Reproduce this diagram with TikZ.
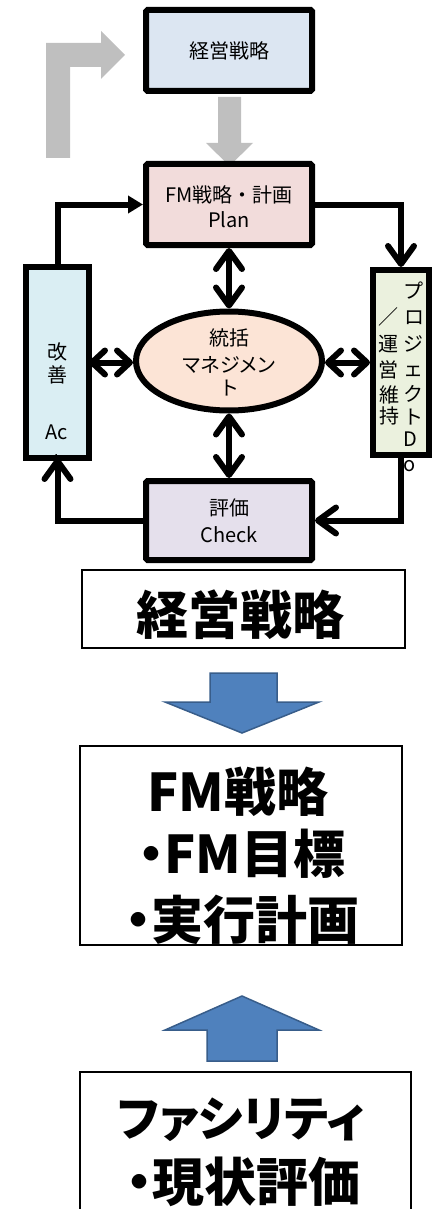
\documentclass[tikz,border=0pt]{standalone}
\usepackage{fontspec}
\setmainfont{Noto Sans CJK JP}
\newfontfamily\jpp[RawFeature=+palt]{Noto Sans CJK JP}
\usetikzlibrary{arrows.meta,shapes.geometric}
\definecolor{topfill}{HTML}{DCE6F2}
\definecolor{planfill}{HTML}{F2DCDB}
\definecolor{actfill}{HTML}{DAEEF3}
\definecolor{dofill}{HTML}{EBF1DE}
\definecolor{ellfill}{HTML}{FCE4D6}
\definecolor{chkfill}{HTML}{E5E0EC}
\definecolor{grayarrow}{HTML}{BFBFBF}
\definecolor{bluefill}{HTML}{4F81BD}
\definecolor{blueline}{HTML}{385D8A}
\begin{document}
\begin{tikzpicture}[x=1pt,y=-1pt,
  box/.style={draw=black, line width=6pt, minimum width=166pt, minimum height=81pt, inner sep=0pt, rounded corners=1.5pt},
  tallbox/.style={line width=6pt, minimum width=57pt, minimum height=185pt, inner sep=0pt},
  conn/.style={line width=6pt, line join=miter},
  barb/.tip={Straight Barb[length=18pt,width=26pt,line cap=round,line join=round]},
  sbarb/.tip={Straight Barb[length=13pt,width=24pt,line cap=round,line join=round]},
  txt/.style={inner sep=0pt, font=\fontsize{20}{22}\selectfont},
  ptxt/.style={inner sep=0pt, font=\jpp\fontsize{20}{22}\selectfont},
  bigtxt/.style={inner sep=0pt, font=\jpp\bfseries\fontsize{52}{60}\selectfont},
  plainbox/.style={draw=black, line width=1.5pt, inner sep=0pt}]
\useasboundingbox (0,0) rectangle (434,1209);
\clip (0,0) rectangle (434,1209);

% gray arrows
\fill[grayarrow] (46,158) -- (46,43) -- (101,43) -- (101,31) -- (125,55) -- (101,79) -- (101,67) -- (70,67) -- (70,158) -- cycle;
\fill[grayarrow] (218,97) -- (241,97) -- (241,143) -- (253,143) -- (229.5,166) -- (206,143) -- (218,143) -- cycle;

% upper cycle nodes
\node[box, fill=topfill] (top) at (229,50.5) {};
\node[txt] (toptxt) at (229,51) {経営戦略};

\node[box, fill=planfill] (plan) at (229,204.5) {};
\node[txt] (plan1) at (229,195) {FM戦略・計画};
\node[txt] (plan2) at (229,220) {Plan};

\node[box, fill=chkfill, minimum height=79pt] (check) at (229,520.5) {};
\node[txt] (chk1) at (229,508) {評価};
\node[txt] (chk2) at (229,535) {Check};

\node[ellipse, draw=black, line width=6pt, fill=ellfill, minimum width=186pt, minimum height=99pt, inner sep=0pt] (ell) at (229,361) {};
\node[txt] (e1) at (229,338) {統括};
\node[ptxt] (e2) at (229,365) {マネジメン};
\node[txt] (e3) at (229,388) {ト};

% left box (Act)
\node[tallbox, fill=actfill] (lbox) at (57.5,362.5) {};
\node[txt] (a1) at (57,352) {改};
\node[txt] (a2) at (57,375) {善};
\node[txt] (a3) at (57,432) {Ac};
\begin{scope}
  \clip (lbox.north west) rectangle (lbox.south east);
  \node[txt] (a4) at (57,462) {t};
\end{scope}
\draw[line width=6pt] (lbox.north west) rectangle (lbox.south east);

% right box (Do)
\node[txt] (d8) at (410,466) {o};
\node[tallbox, draw=black, fill=dofill, minimum width=56pt] (rbox) at (401,362.5) {};
\node[txt] (d1) at (413,291) {プ};
\node[txt] (d2) at (414,318) {ロ};
\node[txt] (d3) at (413,344) {ジ};
\node[txt] (d4) at (413,371) {ェ};
\node[txt] (d5) at (413,394) {ク};
\node[txt] (d6) at (413,417) {ト};
\node[txt] (d7) at (410,439) {D};
\node[txt] (l1) at (388,317) {／};
\node[txt] (l2) at (388,344) {運};
\node[txt] (l3) at (388,370) {営};
\node[txt] (l4) at (389,395) {維};
\node[txt] (l5) at (389,416) {持};

% connectors
\draw[conn,-{Triangle[length=15pt,width=17pt]}] (lbox.north) |- (plan.west);
\draw[conn,-barb] (plan.east) -| (rbox.north);
\draw[conn,-barb] (rbox.south) |- (check.east);
\draw[conn,-barb] (check.west) -| (lbox.south);
\draw[conn,barb-barb] (plan.south) -- (ell.north);
\draw[conn,barb-barb] (ell.south) -- (check.north);
\draw[conn,sbarb-sbarb] (lbox.east) -- (lbox.east -| ell.west);
\draw[conn,sbarb-sbarb] (rbox.west -| ell.east) -- (rbox.west);

% lower section
\node[plainbox, minimum width=323pt, minimum height=78pt] (b1) at (243.5,609) {};
\node[bigtxt] (b1t) at (240,615) {経営戦略};

\draw[fill=bluefill, draw=blueline, line width=1.5pt] (210,673) -- (277,673) -- (277,702) -- (319,702) -- (242,733) -- (165,702) -- (210,702) -- cycle;

\node[plainbox, minimum width=322pt, minimum height=199pt] (b2) at (241,845.5) {};
\node[bigtxt] (b2a) at (238,792) {FM戦略};
\node[bigtxt] (b2b) at (242,854) {・FM目標};
\node[bigtxt] (b2c) at (242,920) {・実行計画};

\draw[fill=bluefill, draw=blueline, line width=1.5pt] (207,1061) -- (277,1061) -- (277,1030) -- (319,1030) -- (242,996) -- (165,1030) -- (207,1030) -- cycle;

\node[plainbox, minimum width=331pt, minimum height=158pt] (b3) at (245.5,1151) {};
\node[bigtxt, font=\jpp\bfseries\fontsize{48}{60}\selectfont] (b3a) at (241,1120) {ファシリティ};
\node[bigtxt] (b3b) at (243,1182) {・現状評価};
\end{tikzpicture}
\end{document}
